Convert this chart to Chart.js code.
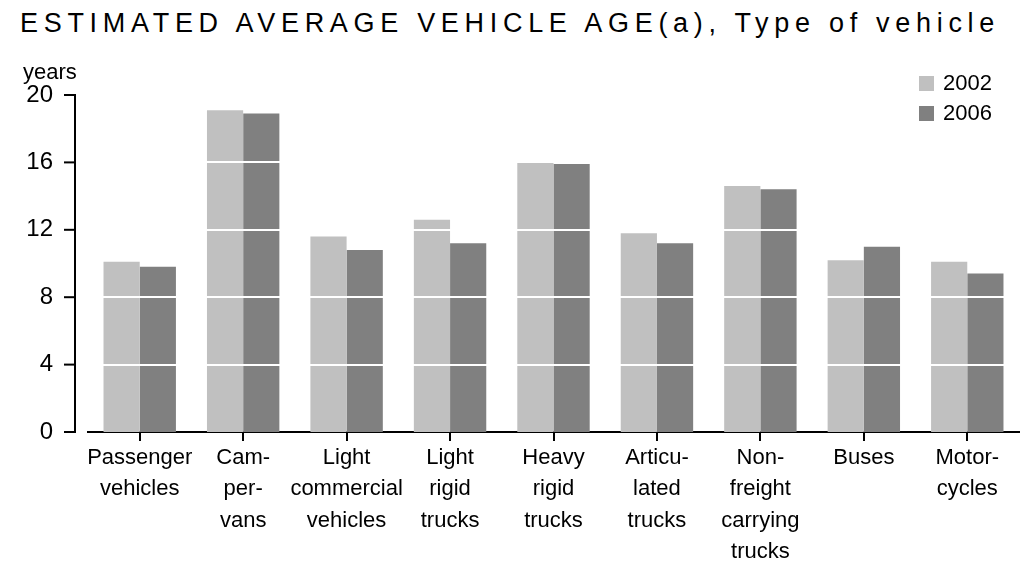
<!DOCTYPE html>
<html>
<head>
<meta charset="utf-8">
<script src="https://cdn.jsdelivr.net/npm/chart.js@4.4.1/dist/chart.umd.min.js"></script>
<style>
    html, body { margin: 0; padding: 0; background: #fff; }
    #wrap { position: relative; width: 1028px; height: 563px; }
    #title {
        position: absolute; left: 20px; top: 8px;
        font: 27px "Liberation Sans Narrow", "Liberation Sans", Arial, sans-serif;
        color: #000; white-space: nowrap;
    }
    canvas { position: absolute; left: 0; top: 0; }
</style>
</head>
<body>
<div id="wrap">
    <div id="title">ESTIMATED AVERAGE VEHICLE AGE(a), Type of vehicle</div>
    <canvas id="chart" width="1028" height="563"></canvas>
</div>
<script>
// data
const categories = [
    ['Passenger', 'vehicles'],
    ['Cam-', 'per-', 'vans'],
    ['Light', 'commercial', 'vehicles'],
    ['Light', 'rigid', 'trucks'],
    ['Heavy', 'rigid', 'trucks'],
    ['Articu-', 'lated', 'trucks'],
    ['Non-', 'freight', 'carrying', 'trucks'],
    ['Buses'],
    ['Motor-', 'cycles']
];
const values2002 = [10.1, 19.1, 11.6, 12.6, 16.0, 11.8, 14.6, 10.2, 10.1];
const values2006 = [9.8, 18.9, 10.8, 11.2, 15.9, 11.2, 14.4, 11.0, 9.4];
const yTicks = [0, 4, 8, 12, 16, 20];

// stretch the title across the top like the original
const title = document.getElementById('title');
const natural = title.getBoundingClientRect().width;
const chars = title.textContent.length;
title.style.letterSpacing = ((980 - natural) / chars) + 'px';

const FONT = '"Liberation Sans", Arial, sans-serif';

const decorations = {
    id: 'decorations',
    afterDatasetsDraw(chart) {
        const { ctx, chartArea, scales } = chart;
        const y = scales.y;
        ctx.save();

        // white gridlines across the bars
        ctx.strokeStyle = '#fff';
        ctx.lineWidth = 2;
        yTicks.forEach(v => {
            if (v === 0 || v === 20) return;
            const py = Math.round(y.getPixelForValue(v));
            ctx.beginPath();
            ctx.moveTo(chartArea.left, py);
            ctx.lineTo(chartArea.right, py);
            ctx.stroke();
        });

        // y axis line sits a little left of the plot
        const ax = chartArea.left - 13;
        ctx.strokeStyle = '#000';
        ctx.lineWidth = 2;
        ctx.beginPath();
        ctx.moveTo(ax, y.getPixelForValue(20));
        ctx.lineTo(ax, y.getPixelForValue(0));
        ctx.stroke();
        yTicks.forEach(v => {
            const py = y.getPixelForValue(v);
            ctx.beginPath();
            ctx.moveTo(ax - 11, py);
            ctx.lineTo(ax + 1, py);
            ctx.stroke();
        });

        // unit label
        ctx.fillStyle = '#000';
        ctx.font = '22px ' + FONT;
        ctx.textBaseline = 'middle';
        ctx.textAlign = 'left';
        ctx.fillText('years', 23, 73);

        // legend
        chart.data.datasets.forEach((ds, i) => {
            const top = 76 + i * 30;
            ctx.fillStyle = ds.backgroundColor;
            ctx.fillRect(919, top, 15, 15);
            ctx.fillStyle = '#000';
            ctx.fillText(ds.label, 943, top + 8);
        });

        ctx.restore();
    }
};

new Chart(document.getElementById('chart'), {
    type: 'bar',
    data: {
        labels: categories,
        datasets: [
            { label: '2002', data: values2002, backgroundColor: '#c0c0c0' },
            { label: '2006', data: values2006, backgroundColor: '#808080' }
        ]
    },
    options: {
        responsive: false,
        animation: false,
        events: [],
        layout: { padding: { top: 95, right: 9, left: 0, bottom: 0 } },
        categoryPercentage: 0.7,
        barPercentage: 1.0,
        plugins: {
            legend: { display: false },
            tooltip: { enabled: false }
        },
        scales: {
            x: {
                afterFit: s => { s.height = 131; },
                border: { display: true, color: '#000', width: 2 },
                grid: {
                    offset: false,
                    drawOnChartArea: false,
                    drawTicks: true,
                    tickLength: 9,
                    color: '#000',
                    lineWidth: 2
                },
                ticks: {
                    autoSkip: false,
                    maxRotation: 0,
                    padding: 1,
                    color: '#000',
                    font: { family: FONT, size: 22, lineHeight: 1.43 }
                }
            },
            y: {
                min: 0,
                max: 20,
                afterFit: s => { s.width = 88; },
                afterBuildTicks: s => { s.ticks = yTicks.map(v => ({ value: v })); },
                border: { display: false },
                grid: { display: false, drawTicks: false },
                ticks: {
                    padding: 35,
                    color: '#000',
                    font: { family: FONT, size: 24 }
                }
            }
        }
    },
    plugins: [decorations]
});
</script>
</body>
</html>
